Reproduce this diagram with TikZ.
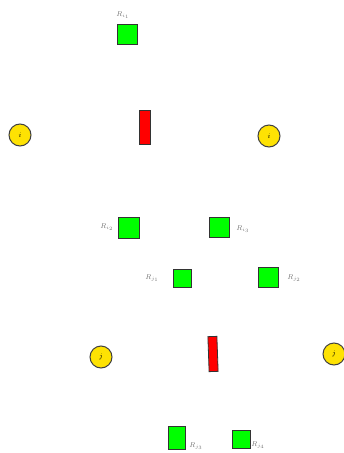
\documentclass[tikz,border=0pt]{standalone}
\begin{document}
\begin{tikzpicture}[x=1pt,y=-1pt,
  sq/.style={draw=black!80,line width=0.8pt,fill=green,minimum width=#1,minimum height=#1,inner sep=0pt},
  sq/.default=20pt,
  bar/.style={draw=black!80,line width=0.8pt,fill=red,minimum width=11pt,minimum height=34pt,inner sep=0pt},
  ball/.style={circle,draw=black!75,line width=1pt,fill=yellow!85!orange,minimum size=22pt,inner sep=0pt,font=\scriptsize},
  lab/.style={text=black!55,font=\scriptsize,inner sep=1pt}]
\useasboundingbox (0,0) rectangle (344,453);
\node[sq] (ri1) at (127,34) {};
\node[lab] (lri1) at (123,15) {$R_{i_1}$};
\node[bar] (b1) at (145,127) {};
\node[ball] (ci1) at (20,135) {$i$};
\node[ball] (ci2) at (269,136) {$i$};
\node[sq=21pt] (ri2) at (129,228) {};
\node[lab] (lri2) at (107,227) {$R_{i_2}$};
\node[sq] (ri3) at (219,227) {};
\node[lab] (lri3) at (243,229) {$R_{i_3}$};
\node[sq=18pt] (rj1) at (182,278) {};
\node[lab] (lrj1) at (152,278) {$R_{j_1}$};
\node[sq] (rj2) at (268,277) {};
\node[lab] (lrj2) at (294,278) {$R_{j_2}$};
\node[ball] (cj1) at (101,357) {$j$};
\node[ball] (cj2) at (334,354) {$j$};
\node[bar,minimum width=9pt,minimum height=35pt,rotate=2] (b2) at (213,354) {};
\node[draw=black!80,line width=0.8pt,fill=green,minimum width=17pt,minimum height=23pt,inner sep=0pt] (rj3) at (177,438) {};
\node[lab] (lrj3) at (196,446) {$R_{j_3}$};
\node[sq=18pt] (rj4) at (241,439) {};
\node[lab] (lrj4) at (258,445) {$R_{j_4}$};
\end{tikzpicture}
\end{document}
